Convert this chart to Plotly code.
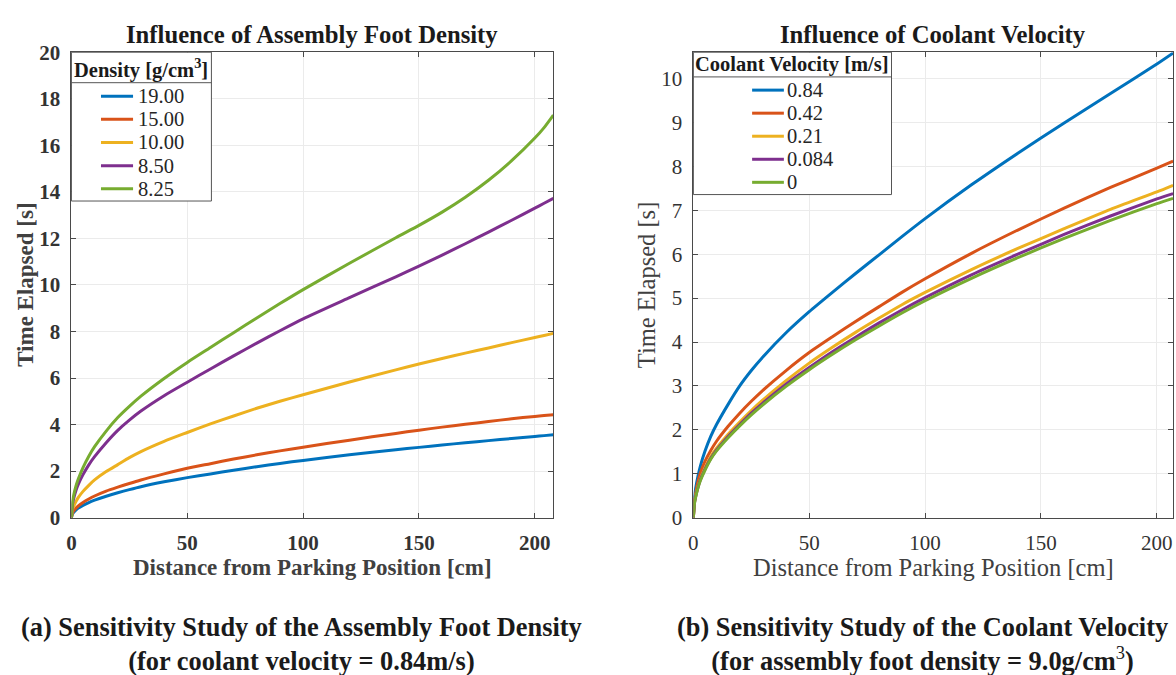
import plotly.graph_objects as go

# ---------------- data ----------------
# (a) influence of assembly foot density, coolant velocity 0.84 m/s
dist_a = [0, 0.5, 1, 2, 3, 5, 7.5, 10, 15, 20, 25, 30, 40, 50, 60, 70, 80, 90, 100,
          120, 140, 150, 160, 170, 180, 190, 200, 204, 208]
dens_labels = ["19.00", "15.00", "10.00", "8.50", "8.25"]
t_dens_1900 = [0, 0.16, 0.23, 0.33, 0.41, 0.53, 0.65, 0.75, 0.92, 1.07, 1.205, 1.33, 1.54, 1.72,
               1.88, 2.04, 2.19, 2.33, 2.46, 2.70, 2.92, 3.02, 3.12, 3.22, 3.31, 3.40, 3.49, 3.525, 3.56]
t_dens_1500 = [0, 0.21, 0.29, 0.41, 0.51, 0.65, 0.80, 0.93, 1.14, 1.31, 1.47, 1.62, 1.88, 2.12,
               2.32, 2.52, 2.70, 2.87, 3.03, 3.33, 3.62, 3.76, 3.89, 4.01, 4.13, 4.25, 4.35, 4.39, 4.42]
t_dens_1000 = [0, 0.35, 0.49, 0.70, 0.87, 1.13, 1.39, 1.62, 1.98, 2.28, 2.58, 2.84, 3.28, 3.66,
               4.03, 4.37, 4.70, 5.00, 5.28, 5.83, 6.35, 6.60, 6.84, 7.07, 7.29, 7.52, 7.74, 7.83, 7.92]
t_dens_850 = [0, 0.59, 0.83, 1.18, 1.44, 1.85, 2.27, 2.62, 3.22, 3.75, 4.19, 4.58, 5.24, 5.82,
              6.39, 6.95, 7.50, 8.03, 8.54, 9.45, 10.35, 10.81, 11.28, 11.77, 12.27, 12.78, 13.30,
              13.51, 13.72]
t_dens_825 = [0, 0.70, 0.97, 1.37, 1.67, 2.15, 2.64, 3.05, 3.72, 4.30, 4.78, 5.22, 5.98, 6.67,
              7.31, 7.95, 8.58, 9.20, 9.80, 10.93, 12.03, 12.56, 13.13, 13.77, 14.50, 15.34, 16.31,
              16.76, 17.30]

# (b) influence of coolant velocity, assembly foot density 9.0 g/cm3
dist_b = [0, 0.5, 1, 2, 3, 5, 7.5, 10, 15, 20, 25, 30, 40, 50, 60, 70, 80, 90, 100,
          120, 140, 160, 180, 200, 207]
vel_labels = ["0.84", "0.42", "0.21", "0.084", "0"]
t_vel_084 = [0, 0.48, 0.67, 0.95, 1.17, 1.51, 1.85, 2.12, 2.58, 3.00, 3.35, 3.66, 4.21, 4.69,
             5.13, 5.56, 5.98, 6.40, 6.81, 7.58, 8.30, 8.99, 9.66, 10.33, 10.58]
t_vel_042 = [0, 0.38, 0.55, 0.82, 1.01, 1.28, 1.53, 1.74, 2.08, 2.38, 2.65, 2.90, 3.35, 3.76,
             4.12, 4.47, 4.80, 5.13, 5.44, 6.02, 6.55, 7.05, 7.52, 7.96, 8.12]
t_vel_021 = [0, 0.35, 0.50, 0.71, 0.88, 1.13, 1.39, 1.58, 1.90, 2.18, 2.44, 2.68, 3.12, 3.52,
             3.88, 4.22, 4.54, 4.85, 5.13, 5.65, 6.13, 6.58, 7.02, 7.42, 7.57]
t_vel_0084 = [0, 0.34, 0.48, 0.69, 0.86, 1.10, 1.35, 1.54, 1.85, 2.12, 2.38, 2.61, 3.04, 3.42,
              3.78, 4.11, 4.43, 4.73, 5.01, 5.53, 6.00, 6.45, 6.87, 7.26, 7.38]
t_vel_0 = [0, 0.33, 0.47, 0.68, 0.84, 1.08, 1.33, 1.52, 1.82, 2.09, 2.34, 2.57, 2.99, 3.37,
           3.72, 4.05, 4.36, 4.66, 4.94, 5.45, 5.92, 6.36, 6.77, 7.15, 7.27]

x_ticks = [0, 50, 100, 150, 200]
y_ticks_a = list(range(0, 21, 2))
y_ticks_b = list(range(0, 11, 1))

# ---------------- styling ----------------
W, H = 1176, 675
FONT = "Times New Roman, Liberation Serif, serif"
COLORS = ["#0072BD", "#D95319", "#EDB120", "#7E2F8E", "#77AC30"]
AXC = "#4a4a4a"
TXT = "#333333"
GRID = "#ebebeb"

# plot-area geometry in pixels
A_X0, A_X1 = 66.7, 550.7
B_X0, B_X1 = 691.3, 1173.3
Y_TOP, Y_BOT = 41.7, 524.3


def fx(p):
    return p / W


def fy(p):
    return 1 - p / H


fig = go.Figure()

series_a = [t_dens_1900, t_dens_1500, t_dens_1000, t_dens_850, t_dens_825]
for name, ys, c in zip(dens_labels, series_a, COLORS):
    fig.add_trace(go.Scatter(x=dist_a, y=ys, name=name, mode="lines",
                             line=dict(color=c, width=3, shape="spline", smoothing=0.6),
                             xaxis="x", yaxis="y", showlegend=False))

series_b = [t_vel_084, t_vel_042, t_vel_021, t_vel_0084, t_vel_0]
for name, ys, c in zip(vel_labels, series_b, COLORS):
    fig.add_trace(go.Scatter(x=dist_b, y=ys, name=name, mode="lines",
                             line=dict(color=c, width=3, shape="spline", smoothing=0.6),
                             xaxis="x2", yaxis="y2", showlegend=False))

common_axis = dict(showline=True, linecolor=AXC, linewidth=1, mirror="ticks",
                   ticks="inside", ticklen=5, tickcolor=AXC, showgrid=True,
                   gridcolor=GRID, gridwidth=1, zeroline=False)

bold_tick = dict(family=FONT, size=21, color=TXT, weight="bold")
reg_tick = dict(family=FONT, size=21, color=TXT)

fig.update_layout(
    width=W, height=H, margin=dict(l=0, r=0, t=0, b=0),
    font=dict(family=FONT, size=21, color=TXT),
    paper_bgcolor="white", plot_bgcolor="white",
    xaxis=dict(domain=[fx(A_X0), fx(A_X1)], range=[0, 208], tickvals=x_ticks,
               anchor="y", ticklabelstandoff=6, tickfont=bold_tick, **common_axis),
    yaxis=dict(domain=[fy(Y_BOT), fy(Y_TOP)], range=[0, 20], tickvals=y_ticks_a,
               anchor="x", ticklabelstandoff=6, tickfont=bold_tick, **common_axis),
    xaxis2=dict(domain=[fx(B_X0), fx(B_X1)], range=[0, 207.1], tickvals=x_ticks,
                anchor="y2", ticklabelstandoff=6, tickfont=reg_tick, **common_axis),
    yaxis2=dict(domain=[fy(Y_BOT), fy(Y_TOP)], range=[0, 10.6], tickvals=y_ticks_b,
                anchor="x2", ticklabelstandoff=6, tickfont=reg_tick, **common_axis),
)

ann = []
shapes = []


def text(x, y, s, size, color="#1a1a1a", xanchor="center", yanchor="middle", angle=0):
    ann.append(dict(x=fx(x), y=fy(y), xref="paper", yref="paper", text=s,
                    showarrow=False, xanchor=xanchor, yanchor=yanchor, textangle=angle,
                    font=dict(family=FONT, size=size, color=color)))


# titles
text((A_X0 + A_X1) / 2, 23.7, "<b>Influence of Assembly Foot Density</b>", 24.7, "#1a1a1a")
text((B_X0 + B_X1) / 2, 23.7, "<b>Influence of Coolant Velocity</b>", 24.7, "#1a1a1a")
# axis titles
text((A_X0 + A_X1) / 2, 576, "<b>Distance from Parking Position [cm]</b>", 23, "#404040")
text((B_X0 + B_X1) / 2, 576, "Distance from Parking Position [cm]", 24.5, "#404040")
text(21, (Y_TOP + Y_BOT) / 2, "<b>Time Elapsed [s]</b>", 23, "#404040", angle=-90)
text(645, (Y_TOP + Y_BOT) / 2, "Time Elapsed [s]", 24.5, "#404040", angle=-90)
# captions (two lines each)
text(297.5, 655, "<b>(a) Sensitivity Study of the Assembly Foot Density<br>"
                 "(for coolant velocity = 0.84m/s)</b>", 26.4, "#1a1a1a")
text(921.8, 655, "<b>(b) Sensitivity Study of the Coolant Velocity<br>"
                 "(for assembly foot density = 9.0g/cm</b><sup>3</sup><b>)</b>", 26.4, "#1a1a1a")


def legend(box, divider_y, title, title_y, labels, line_x0, line_x1, text_x, first_y, step):
    x0, y0, x1, y1 = box
    shapes.append(dict(type="rect", xref="paper", yref="paper", x0=fx(x0), x1=fx(x1),
                       y0=fy(y1), y1=fy(y0), line=dict(color="#555555", width=1),
                       fillcolor="white", layer="above"))
    shapes.append(dict(type="line", xref="paper", yref="paper", x0=fx(x0), x1=fx(x1),
                       y0=fy(divider_y), y1=fy(divider_y), line=dict(color="#555555", width=1),
                       layer="above"))
    text((x0 + x1) / 2, title_y, title, 20.5, "#1a1a1a")
    for i, (lab, c) in enumerate(zip(labels, COLORS)):
        yy = first_y + step * i
        shapes.append(dict(type="line", xref="paper", yref="paper", x0=fx(line_x0), x1=fx(line_x1),
                           y0=fy(yy), y1=fy(yy), line=dict(color=c, width=3), layer="above"))
        text(text_x, yy, lab, 20.5, "#262626", xanchor="left")


legend((A_X0, Y_TOP, 207.3, 196), 73.3, "<b>Density [g/cm<sup>3</sup>]</b>", 59,
       dens_labels, 96.4, 128.6, 131.5, 87.3, 24)
legend((B_X0, Y_TOP, 890.3, 189.3), 67.3, "<b>Coolant Velocity [m/s]</b>", 54.5,
       vel_labels, 750.3, 782.2, 783.5, 81, 23.9)

fig.update_layout(annotations=ann, shapes=shapes)
fig.write_html("out.html")
